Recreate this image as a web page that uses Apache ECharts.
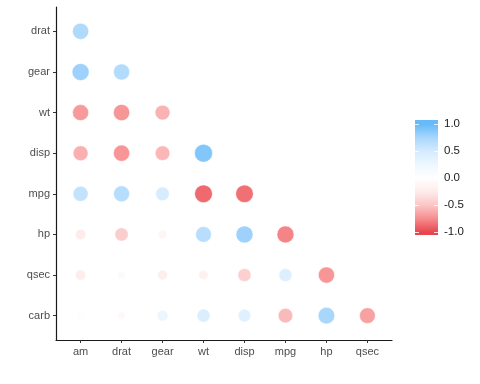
<!DOCTYPE html>
<html><head><meta charset="utf-8">
<script src="https://cdn.jsdelivr.net/npm/echarts@6/dist/echarts.min.js"></script>
<style>html,body{margin:0;padding:0;background:#fff}#c{width:480px;height:384px}</style>
</head><body><div id="c"></div>
<script>
// Variables on each axis
const xVars = ['am', 'drat', 'gear', 'wt', 'disp', 'mpg', 'hp', 'qsec'];
const yVars = ['drat', 'gear', 'wt', 'disp', 'mpg', 'hp', 'qsec', 'carb']; // top to bottom
// Lower-triangle correlations, one row per yVar, columns follow xVars
const rowDrat = [0.71];
const rowGear = [0.79, 0.70];
const rowWt   = [-0.69, -0.71, -0.58];
const rowDisp = [-0.59, -0.71, -0.56, 0.89];
const rowMpg  = [0.60, 0.68, 0.48, -0.87, -0.85];
const rowHp   = [-0.24, -0.45, -0.13, 0.66, 0.79, -0.78];
const rowQsec = [-0.23, 0.09, -0.21, -0.17, -0.43, 0.42, -0.71];
const rowCarb = [0.06, -0.09, 0.27, 0.43, 0.39, -0.55, 0.75, -0.66];
const corrRows = [rowDrat, rowGear, rowWt, rowDisp, rowMpg, rowHp, rowQsec, rowCarb];
// Legend ticks
const legendTicks = [1.0, 0.5, 0.0, -0.5, -1.0];
const legendLabels = ['1.0', '0.5', '0.0', '-0.5', '-1.0'];
// Colour scale from -1 to 1
const scaleColors = ['#E8464E', '#F68C8E', '#FCC5C5', '#FEEBEB', '#FFFFFF', '#EEF7FF', '#D5EBFE', '#A9D7FC', '#66BAF9'];

const data = [];
corrRows.forEach((row, i) => row.forEach((v, j) => data.push([j, i, v])));
const absVals = data.map(d => Math.abs(d[2]));
const minAbs = Math.min(...absVals), maxAbs = Math.max(...absVals);
function sizeOf(v) {
  const t = (Math.abs(v) - minAbs) / (maxAbs - minAbs);
  return 1.8 * Math.sqrt(16 + 84 * t);
}

// colour bar geometry
const barX = 415, barW = 23, barTop = 120, barH = 115;
const zeroY = 178.3, unitPx = 54;
const yOf = v => zeroY - unitPx * v;
const stops = scaleColors.map((c, k) => {
  const v = -1 + 2 * k / (scaleColors.length - 1);
  return { offset: (yOf(v) - barTop) / barH, color: c };
}).reverse();
stops.unshift({ offset: 0, color: scaleColors[scaleColors.length - 1] });
stops.push({ offset: 1, color: scaleColors[0] });

const graphics = [{
  type: 'rect', shape: { x: barX, y: barTop, width: barW, height: barH },
  style: { fill: { type: 'linear', x: 0, y: 0, x2: 0, y2: 1, colorStops: stops } }, silent: true
}];
legendTicks.forEach((v, k) => {
  const y = Math.round(yOf(v)) + 0.5;
  graphics.push({ type: 'line', shape: { x1: barX, y1: y, x2: barX + 4, y2: y }, style: { stroke: 'rgba(255,255,255,0.8)', lineWidth: 1 }, silent: true });
  graphics.push({ type: 'line', shape: { x1: barX + barW - 4, y1: y, x2: barX + barW, y2: y }, style: { stroke: 'rgba(255,255,255,0.8)', lineWidth: 1 }, silent: true });
  graphics.push({ type: 'text', x: 444, y: yOf(v), style: { text: legendLabels[k], font: '11.5px "Liberation Sans", Arial, sans-serif', fill: '#1a1a1a', verticalAlign: 'middle', align: 'left' }, silent: true });
});

const idx = xVars.map((_, i) => i);
const axisCommon = {
  type: 'value', min: -0.6, max: 7.6, splitLine: { show: false },
  axisLine: { show: true, onZero: false, lineStyle: { color: '#1a1a1a', width: 1.2 } },
  axisTick: { show: true, length: 3, lineStyle: { color: '#333', width: 1 }, customValues: idx },
};
const chart = echarts.init(document.getElementById('c'), null, { renderer: 'canvas' });
chart.setOption({
  animation: false,
  backgroundColor: '#fff',
  grid: { left: 56, right: 88, top: 7, bottom: 44, containLabel: false },
  xAxis: Object.assign({}, axisCommon, {
    axisLabel: { customValues: idx, formatter: v => xVars[Math.round(v)], color: '#4D4D4D', fontSize: 11, fontFamily: '"Liberation Sans", Arial, sans-serif', margin: 6 }
  }),
  yAxis: Object.assign({}, axisCommon, {
    inverse: true,
    axisLabel: { customValues: idx, formatter: v => yVars[Math.round(v)], color: '#4D4D4D', fontSize: 11, fontFamily: '"Liberation Sans", Arial, sans-serif', margin: 6 }
  }),
  visualMap: { show: false, type: 'continuous', min: -1, max: 1, dimension: 2, seriesIndex: 0, inRange: { color: scaleColors } },
  series: [{
    type: 'scatter', data: data, symbol: 'circle',
    symbolSize: val => sizeOf(val[2]),
    itemStyle: { opacity: 1, borderColor: '#fff', borderWidth: 0.5 },
    silent: true
  }],
  graphic: graphics
});
</script></body></html>
